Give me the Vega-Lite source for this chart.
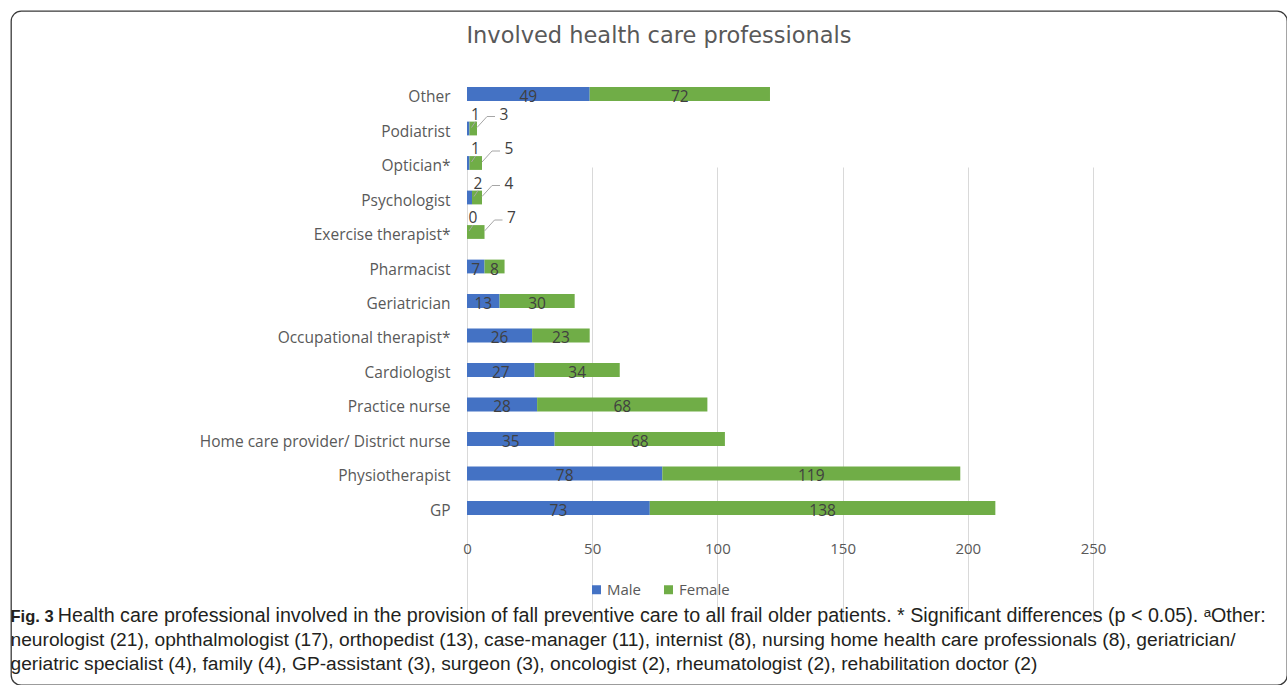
{
  "$schema": "https://vega.github.io/schema/vega-lite/v6.json",
  "autosize": {"type": "none"},
  "padding": {"left": 11, "top": 11, "right": 0, "bottom": 0},
  "width": 1276,
  "height": 674,
  "background": "white",
  "title": {
    "text": "Involved health care professionals",
    "subtitle": "\u200b\u00a0Health care professional involved in the provision of fall preventive care to all frail older patients. * Significant differences (p < 0.05). \u1d43Other:",
    "orient": "bottom",
    "font": "DejaVu Sans",
    "fontSize": 22.5,
    "fontWeight": "normal",
    "color": "#595959",
    "subtitleFont": "Liberation Sans",
    "subtitleFontSize": 19.7,
    "subtitleColor": "#231f20",
    "subtitlePadding": 558,
    "anchor": "middle",
    "frame": "group",
    "offset": -660,
    "dx": 10
  },
  "data": {
    "values": [
      {"category": "Other", "gender": "Male", "value": 49},
      {"category": "Other", "gender": "Female", "value": 72},
      {"category": "Podiatrist", "gender": "Male", "value": 1},
      {"category": "Podiatrist", "gender": "Female", "value": 3},
      {"category": "Optician*", "gender": "Male", "value": 1},
      {"category": "Optician*", "gender": "Female", "value": 5},
      {"category": "Psychologist", "gender": "Male", "value": 2},
      {"category": "Psychologist", "gender": "Female", "value": 4},
      {"category": "Exercise therapist*", "gender": "Male", "value": 0},
      {"category": "Exercise therapist*", "gender": "Female", "value": 7},
      {"category": "Pharmacist", "gender": "Male", "value": 7},
      {"category": "Pharmacist", "gender": "Female", "value": 8},
      {"category": "Geriatrician", "gender": "Male", "value": 13},
      {"category": "Geriatrician", "gender": "Female", "value": 30},
      {"category": "Occupational therapist*", "gender": "Male", "value": 26},
      {"category": "Occupational therapist*", "gender": "Female", "value": 23},
      {"category": "Cardiologist", "gender": "Male", "value": 27},
      {"category": "Cardiologist", "gender": "Female", "value": 34},
      {"category": "Practice nurse", "gender": "Male", "value": 28},
      {"category": "Practice nurse", "gender": "Female", "value": 68},
      {"category": "Home care provider/ District nurse", "gender": "Male", "value": 35},
      {"category": "Home care provider/ District nurse", "gender": "Female", "value": 68},
      {"category": "Physiotherapist", "gender": "Male", "value": 78},
      {"category": "Physiotherapist", "gender": "Female", "value": 119},
      {"category": "GP", "gender": "Male", "value": 73},
      {"category": "GP", "gender": "Female", "value": 138}
    ]
  },
  "layer": [
    {
      "mark": {"type": "bar"},
      "encoding": {
        "x": {
          "field": "value",
          "type": "quantitative",
          "stack": "zero",
          "scale": {"domain": [0, 250], "range": [456, 1082], "nice": false},
          "axis": {
            "orient": "bottom",
            "offset": -156,
            "values": [0, 50, 100, 150, 200, 250],
            "domain": false,
            "ticks": false,
            "tickSize": 0,
            "labelPadding": 12,
            "labelFlush": false,
            "labelFont": "Open Sans",
            "labelFontSize": 15,
            "labelColor": "#595959",
            "grid": true,
            "gridColor": "#d9d9d9",
            "gridWidth": 1,
            "title": [
              "neurologist (21), ophthalmologist (17), orthopedist (13), case-manager (11), internist (8), nursing home health care professionals (8), geriatrician/",
              "geriatric specialist (4), family (4), GP-assistant (3), surgeon (3), oncologist (2), rheumatologist (2), rehabilitation doctor (2)"
            ],
            "titleX": -1,
            "titleY": 116.5,
            "titleAlign": "left",
            "titleBaseline": "alphabetic",
            "titleLineHeight": 24,
            "titleFont": "Liberation Sans",
            "titleFontSize": 19.2,
            "titleFontWeight": "normal",
            "titleColor": "#231f20"
          }
        },
        "y": {
          "field": "category",
          "type": "nominal",
          "sort": ["Other", "Podiatrist", "Optician*", "Psychologist", "Exercise therapist*", "Pharmacist", "Geriatrician", "Occupational therapist*", "Cardiologist", "Practice nurse", "Home care provider/ District nurse", "Physiotherapist", "GP"],
          "scale": {"range": [62, 518], "paddingInner": 0.6, "paddingOuter": 0.4087},
          "axis": {
            "orient": "left",
            "offset": -456,
            "domain": false,
            "ticks": false,
            "tickSize": 0,
            "labelPadding": 17,
            "labelOffset": 3,
            "labelLimit": 500,
            "labelFont": "Open Sans",
            "labelFontSize": 15.5,
            "labelColor": "#595959",
            "grid": false,
            "title": "Fig. 3",
            "titleAngle": 0,
            "titleX": -457,
            "titleY": 610.5,
            "titleAlign": "left",
            "titleBaseline": "alphabetic",
            "titleFont": "Liberation Sans",
            "titleFontSize": 16.5,
            "titleFontWeight": "bold",
            "titleColor": "#231f20"
          }
        },
        "color": {
          "field": "gender",
          "type": "nominal",
          "scale": {"domain": ["Male", "Female"], "range": ["#4472C4", "#70AD47"]},
          "legend": {
            "orient": "none",
            "direction": "horizontal",
            "legendX": 578,
            "legendY": 571,
            "title": null,
            "symbolType": "square",
            "symbolSize": 81,
            "symbolStrokeWidth": 0,
            "labelFont": "Open Sans",
            "labelFontSize": 15,
            "labelColor": "#595959",
            "labelOffset": 3,
            "columnPadding": 19,
            "padding": 0
          }
        },
        "order": {"field": "gender", "sort": "descending"}
      }
    },
    {
      "transform": [{"filter": {"not": {"field": "category", "oneOf": ["Podiatrist", "Optician*", "Psychologist", "Exercise therapist*"]}}}],
      "mark": {"type": "text", "font": "Open Sans", "fontSize": 15.5, "color": "#404040", "dy": 3},
      "encoding": {
        "x": {"field": "value", "type": "quantitative", "stack": "zero", "bandPosition": 0.5},
        "y": {"field": "category", "type": "nominal", "sort": ["Other", "Podiatrist", "Optician*", "Psychologist", "Exercise therapist*", "Pharmacist", "Geriatrician", "Occupational therapist*", "Cardiologist", "Practice nurse", "Home care provider/ District nurse", "Physiotherapist", "GP"]},
        "detail": {"field": "gender"},
        "order": {"field": "gender", "sort": "descending"},
        "text": {"field": "value", "type": "quantitative"}
      }
    },
    {
      "transform": [{"filter": {"and": [{"field": "gender", "equal": "Male"}, {"field": "category", "oneOf": ["Podiatrist", "Optician*", "Psychologist", "Exercise therapist*"]}]}}],
      "mark": {"type": "text", "font": "Open Sans", "fontSize": 15.5, "color": "#404040", "dx": 6, "dy": -14},
      "encoding": {
        "x": {"field": "value", "type": "quantitative"},
        "y": {"field": "category", "type": "nominal", "sort": ["Other", "Podiatrist", "Optician*", "Psychologist", "Exercise therapist*", "Pharmacist", "Geriatrician", "Occupational therapist*", "Cardiologist", "Practice nurse", "Home care provider/ District nurse", "Physiotherapist", "GP"]},
        "text": {"field": "value", "type": "quantitative"}
      }
    },
    {
      "transform": [{"filter": {"and": [{"field": "gender", "equal": "Male"}, {"field": "category", "oneOf": ["Podiatrist", "Optician*", "Psychologist", "Exercise therapist*"]}]}}],
      "mark": {"type": "point", "shape": "M2,-1L6,-7", "size": 4, "filled": false, "stroke": "#a6a6a6", "strokeWidth": 1, "opacity": 1},
      "encoding": {
        "x": {"field": "value", "type": "quantitative"},
        "y": {"field": "category", "type": "nominal", "sort": ["Other", "Podiatrist", "Optician*", "Psychologist", "Exercise therapist*", "Pharmacist", "Geriatrician", "Occupational therapist*", "Cardiologist", "Practice nurse", "Home care provider/ District nurse", "Physiotherapist", "GP"]}
      }
    },
    {
      "transform": [
        {"joinaggregate": [{"op": "sum", "field": "value", "as": "total"}], "groupby": ["category"]},
        {"filter": {"and": [{"field": "gender", "equal": "Female"}, {"field": "category", "oneOf": ["Podiatrist", "Optician*", "Psychologist", "Exercise therapist*"]}]}}
      ],
      "mark": {"type": "text", "font": "Open Sans", "fontSize": 15.5, "color": "#404040", "dx": 27, "dy": -14},
      "encoding": {
        "x": {"field": "total", "type": "quantitative"},
        "y": {"field": "category", "type": "nominal", "sort": ["Other", "Podiatrist", "Optician*", "Psychologist", "Exercise therapist*", "Pharmacist", "Geriatrician", "Occupational therapist*", "Cardiologist", "Practice nurse", "Home care provider/ District nurse", "Physiotherapist", "GP"]},
        "text": {"field": "value", "type": "quantitative"}
      }
    },
    {
      "transform": [
        {"joinaggregate": [{"op": "sum", "field": "value", "as": "total"}], "groupby": ["category"]},
        {"filter": {"and": [{"field": "gender", "equal": "Female"}, {"field": "category", "oneOf": ["Podiatrist", "Optician*", "Psychologist", "Exercise therapist*"]}]}}
      ],
      "mark": {"type": "point", "shape": "M0,-1L10,-12L18,-12", "size": 4, "filled": false, "stroke": "#a6a6a6", "strokeWidth": 1, "opacity": 1},
      "encoding": {
        "x": {"field": "total", "type": "quantitative"},
        "y": {"field": "category", "type": "nominal", "sort": ["Other", "Podiatrist", "Optician*", "Psychologist", "Exercise therapist*", "Pharmacist", "Geriatrician", "Occupational therapist*", "Cardiologist", "Practice nurse", "Home care provider/ District nurse", "Physiotherapist", "GP"]}
      }
    }
  ],
  "config": {
    "view": {"stroke": "#3a3a3a", "strokeWidth": 1.3, "cornerRadius": 10, "fill": "white"}
  }
}
